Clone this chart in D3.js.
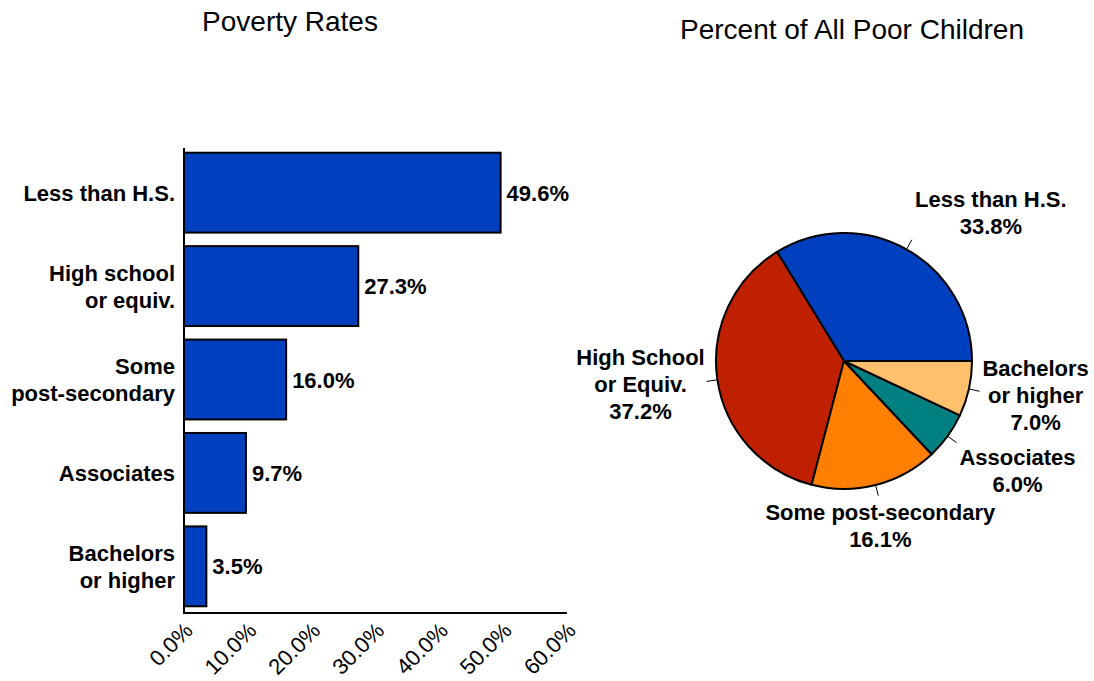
<!DOCTYPE html>
<html>
<head>
<meta charset="utf-8">
<script src="https://cdn.jsdelivr.net/npm/d3@7"></script>
<style>
  body { margin: 0; background: #fff; }
  svg { font-family: "Liberation Sans", Arial, sans-serif; }
</style>
</head>
<body>
<svg id="chart" width="1094" height="681"></svg>
<script>
// bar chart data
var barLabels = [["Less than H.S."], ["High school", "or equiv."], ["Some", "post-secondary"], ["Associates"], ["Bachelors", "or higher"]];
var barValues = [0.496, 0.273, 0.160, 0.097, 0.035];
var xTicks = [0, 0.1, 0.2, 0.3, 0.4, 0.5, 0.6];

// pie data
var pieLabels = [["Less than H.S.", "33.8%"], ["High School", "or Equiv.", "37.2%"], ["Some post-secondary", "16.1%"], ["Associates", "6.0%"], ["Bachelors", "or higher", "7.0%"]];
var pieValues = [33.8, 37.2, 16.1, 6.0, 7.0];
var pieColors = ["#0040bf", "#bf2000", "#ff8000", "#008080", "#ffc06c"];
// label anchor offset from the end of each leader line
var labelOffset = [[79, -33], [-66, -16], [2, 24], [61, 22], [56, -15]];

var svg = d3.select("#chart");
var lineH = 27;

// ---- bar chart ----
var x = d3.scaleLinear().domain([0, 0.6]).range([184, 567]);
var y = d3.scaleBand().domain(d3.range(barValues.length)).range([146, 613]).paddingInner(0.145).paddingOuter(0.072);

svg.append("text")
    .attr("x", 290).attr("y", 31)
    .attr("text-anchor", "middle")
    .attr("font-size", "28px")
    .text("Poverty Rates");

svg.append("g").selectAll("rect").data(barValues).enter()
    .append("rect")
    .attr("x", x(0))
    .attr("y", function (d, i) { return y(i); })
    .attr("width", function (d) { return x(d) - x(0); })
    .attr("height", y.bandwidth())
    .style("fill", "#0040bf")
    .style("stroke", "#000")
    .style("stroke-width", 2);

svg.append("g").selectAll("text").data(barValues).enter()
    .append("text")
    .attr("x", function (d) { return x(d) + 6; })
    .attr("y", function (d, i) { return y(i) + y.bandwidth() / 2 + 8; })
    .attr("font-size", "22px")
    .attr("font-weight", "bold")
    .text(function (d) { return (d * 100).toFixed(1) + "%"; });

var cat = svg.append("g").selectAll("text").data(barLabels).enter()
    .append("text")
    .attr("text-anchor", "end")
    .attr("font-size", "22px")
    .attr("font-weight", "bold")
    .attr("y", function (d, i) { return y(i) + y.bandwidth() / 2 + 8 - (d.length - 1) * lineH / 2; });
cat.selectAll("tspan").data(function (d) { return d; }).enter()
    .append("tspan")
    .attr("x", 175)
    .attr("dy", function (d, i) { return i ? lineH : 0; })
    .text(function (d) { return d; });

// axes
svg.append("line")
    .attr("x1", x(0)).attr("x2", x(0))
    .attr("y1", 148).attr("y2", 614)
    .style("stroke", "#000").style("stroke-width", 2);
svg.append("line")
    .attr("x1", x(0) - 1).attr("x2", x(0.6))
    .attr("y1", 613).attr("y2", 613)
    .style("stroke", "#000").style("stroke-width", 2);

svg.append("g").selectAll("text").data(xTicks).enter()
    .append("text")
    .attr("text-anchor", "end")
    .attr("font-size", "22px")
    .attr("transform", function (d) { return "translate(" + (x(d) + 10) + ",632) rotate(-45)"; })
    .text(function (d) { return (d * 100).toFixed(1) + "%"; });

// ---- pie chart ----
var cx = 844, cy = 361, r = 128;

svg.append("text")
    .attr("x", 852).attr("y", 39)
    .attr("text-anchor", "middle")
    .attr("font-size", "28px")
    .text("Percent of All Poor Children");

var pie = d3.pie().sort(null)
    .startAngle(Math.PI / 2)
    .endAngle(Math.PI / 2 - 2 * Math.PI);
var arcs = pie(pieValues);
var arc = d3.arc().innerRadius(0).outerRadius(r);

var pg = svg.append("g").attr("transform", "translate(" + cx + "," + cy + ")");
pg.selectAll("path").data(arcs).enter()
    .append("path")
    .attr("d", arc)
    .style("fill", function (d, i) { return pieColors[i]; })
    .style("stroke", "#000")
    .style("stroke-width", 2)
    .style("stroke-linejoin", "round");

function polar(a, rr) { return [Math.sin(a) * rr, -Math.cos(a) * rr]; }

pg.selectAll("line").data(arcs).enter()
    .append("line")
    .each(function (d) {
        var m = (d.startAngle + d.endAngle) / 2;
        var p0 = polar(m, r), p1 = polar(m, r + 11);
        d3.select(this).attr("x1", p0[0]).attr("y1", p0[1]).attr("x2", p1[0]).attr("y2", p1[1]);
    })
    .style("stroke", "#000")
    .style("stroke-width", 1);

var pl = pg.selectAll("text.pl").data(arcs).enter()
    .append("text")
    .attr("class", "pl")
    .attr("text-anchor", "middle")
    .attr("font-size", "22px")
    .attr("font-weight", "bold")
    .each(function (d, i) {
        var m = (d.startAngle + d.endAngle) / 2;
        var p1 = polar(m, r + 11);
        d.lx = p1[0] + labelOffset[i][0];
        d.ly = p1[1] + labelOffset[i][1];
    })
    .attr("y", function (d) { return d.ly; });
pl.selectAll("tspan").data(function (d, i) { return pieLabels[i].map(function (t) { return { t: t, x: d.lx }; }); }).enter()
    .append("tspan")
    .attr("x", function (d) { return d.x; })
    .attr("dy", function (d, i) { return i ? lineH : 0; })
    .text(function (d) { return d.t; });
</script>
</body>
</html>
